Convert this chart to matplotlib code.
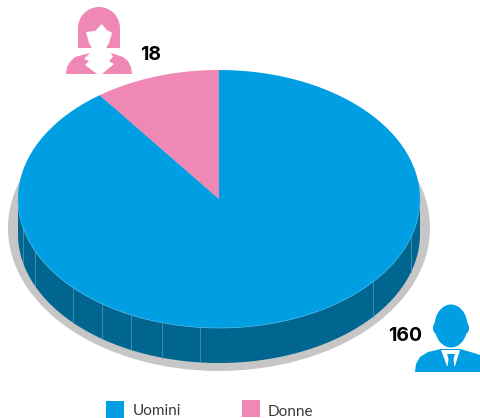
import numpy as np
import matplotlib.pyplot as plt
from matplotlib.patches import Polygon, Ellipse, Rectangle

categories = ["Uomini", "Donne"]
values = [160, 18]
colors = ["#009FE3", "#F088B6"]
value_labels = ["160", "18"]

# pie geometry in picture pixels
cx, cy, rx, ry = 219, 199, 201, 129
depth = 35
# seams drawn on the side of the pie (x position in pixels)
seams = [23, 35, 73, 102, 131, 162, 200, 373, 411]


def rim(a):
    return cx + rx * np.sin(a), cy - ry * np.cos(a)


fig = plt.figure(figsize=(4.8, 4.18), dpi=100)
ax = fig.add_axes([0, 0, 1, 1])
ax.set_xlim(0, 480)
ax.set_ylim(418, 0)
ax.axis("off")

# shadow
ax.add_patch(Ellipse((219, 228), 422, 286, color="#C6C6C6", lw=0))

# side of the pie
t = np.linspace(np.pi / 2, 3 * np.pi / 2, 200)
xs, ys = rim(t)
side = np.r_[np.c_[xs, ys], np.c_[xs[::-1], ys[::-1] + depth]]
ax.add_patch(Polygon(side, color="#00658F", lw=0))
for x in seams:
    y = cy + ry * np.sqrt(1 - ((x - cx) / rx) ** 2)
    ax.plot([x, x], [y, y + depth], color="#4A93B3", lw=0.6)

# top of the pie, slices run clockwise from 12 o'clock
total = sum(values)
start = 0
for v, c in zip(values, colors):
    end = start + 2 * np.pi * v / total
    a = np.linspace(start, end, 300)
    xs, ys = rim(a)
    ax.add_patch(Polygon(np.r_[[[cx, cy]], np.c_[xs, ys]], color=c, lw=0))
    start = end
a = np.linspace(np.pi / 2, 3 * np.pi / 2, 200)
ax.plot(*rim(a), color="#4AB4E6", lw=0.5)

# woman icon
pink = colors[1]
ax.add_patch(Ellipse((99, 28), 42, 42, color=pink, lw=0))
ax.add_patch(Rectangle((78, 28), 42, 20, color=pink, lw=0))
ax.add_patch(Polygon([(86, 32), (95, 31), (101.7, 24), (107, 30), (112, 33), (109, 43), (105, 50), (99, 53),
                      (93, 50), (89, 43)], color="white", lw=0))
ax.add_patch(Polygon([(66, 74), (67, 67), (70, 62), (75, 57), (90, 53), (84, 59), (89, 61), (85, 65), (97, 74)],
                     color=pink, lw=0))
ax.add_patch(Polygon([(102, 74), (114, 64), (109, 61), (113, 57), (111, 53), (123, 57), (128, 61), (131, 67),
                      (132, 74)], color=pink, lw=0))

# man icon
blue = colors[0]
ax.add_patch(Ellipse((451, 326), 33, 43, color=blue, lw=0))
ax.add_patch(Ellipse((436, 328), 6, 11, color=blue, lw=0))
ax.add_patch(Ellipse((466, 328), 6, 11, color=blue, lw=0))
ax.add_patch(Polygon([(415, 372), (416, 364), (420, 357), (428, 352), (441, 349), (460, 349), (474, 353),
                      (480, 355), (480, 372)], color=blue, lw=0))
ax.add_patch(Polygon([(441, 350), (460, 350), (455, 366), (447, 366)], color="white", lw=0))
ax.add_patch(Polygon([(447, 354), (455, 354), (453.5, 359), (455, 372), (447, 372), (448.5, 359)], color=blue, lw=0))

# value labels
ax.text(140, 55, value_labels[1], fontsize=14, fontweight="bold", family="Inter", color="black",
        va="center", ha="left")
ax.text(388, 336, value_labels[0], fontsize=14, fontweight="bold", family="Inter", color="black",
        va="center", ha="left")

# legend
ax.add_patch(Rectangle((106, 401), 18, 17, color=colors[0], lw=0))
ax.add_patch(Rectangle((242, 400), 18, 17, color=colors[1], lw=0))
ax.text(133, 415, categories[0], fontsize=11, family="Lato", color="#3C3C3B", va="baseline", ha="left")
ax.text(268, 415.5, categories[1], fontsize=11, family="Lato", color="#3C3C3B", va="baseline", ha="left")

fig.savefig("out.png", dpi=100)
